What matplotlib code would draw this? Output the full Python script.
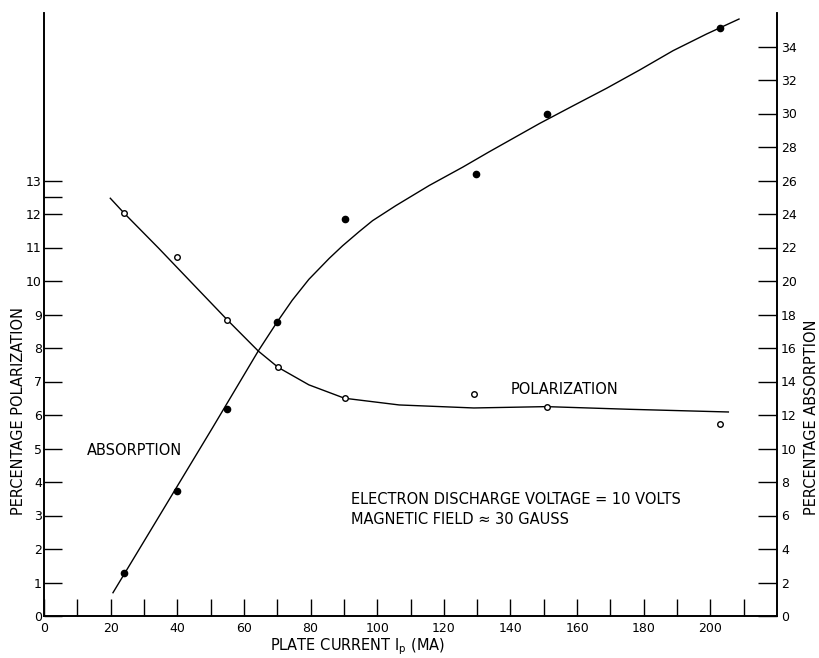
import numpy as np
import matplotlib.pyplot as plt

pol_x = [24, 40, 55, 70.3, 90.2, 129, 151, 203]
pol_y = [12.03, 10.71, 8.83, 7.42, 6.50, 6.64, 6.25, 5.74]      # left axis

abs_x = [24, 40, 55, 70, 90.2, 129.7, 151, 203]
abs_y = [2.57, 7.46, 12.36, 17.53, 23.7, 26.37, 29.99, 35.08]   # right axis

# hand drawn curves
pol_cx = [19.9, 24.0, 34.4, 44.5, 55.1, 64.3, 70.3, 79.5, 90.2, 106.6,
          129.0, 150.8, 175.8, 205.4]
pol_cy = [12.47, 12.03, 10.98, 9.93, 8.83, 7.91, 7.42, 6.90, 6.50, 6.30,
          6.21, 6.25, 6.17, 6.09]

abs_cx = [20.7, 50.5, 64.3, 69.9, 74.5, 79.5, 85.6, 89.6, 94.6, 98.6,
          105.6, 115.6, 125.7, 133.5, 148.7, 158.7, 168.8, 178.8, 188.8,
          198.9, 208.6]
abs_cy = [1.39, 11.21, 15.82, 17.53, 18.85, 20.1, 21.35, 22.1, 22.95,
          23.6, 24.5, 25.7, 26.8, 27.7, 29.4, 30.45, 31.5, 32.6, 33.75,
          34.75, 35.64]

x_ticks = list(range(0, 220, 10))
x_labels = [str(v) if v % 20 == 0 else '' for v in x_ticks]
left_ticks = [0, 1, 2, 3, 4, 5, 6, 7, 8, 9, 10, 11, 12, 12.5, 13]
left_labels = ['0', '1', '2', '3', '4', '5', '6', '7', '8', '9', '10', '11',
               '12', '', '13']
right_ticks = list(range(0, 36, 2))

plt.rcParams['font.family'] = 'DejaVu Sans'

fig = plt.figure(figsize=(8.19, 6.58), dpi=100)
ax = fig.add_axes([44/819, 1-616/658, 733/819, 603/658])
ax2 = ax.twinx()

lw = 1.0
ax.plot(pol_cx, pol_cy, color='black', lw=lw)
ax.plot(pol_x, pol_y, 'o', ms=4, mfc='white', mec='black', mew=1.0)

ax2.plot(abs_cx, abs_cy, color='black', lw=lw)
ax2.plot(abs_x, abs_y, 'o', ms=4.5, color='black')

ax.set_xlim(0, 220)
ax.set_ylim(0, 18)
ax2.set_ylim(0, 36)

for a in (ax, ax2):
    a.spines['top'].set_visible(False)
    for s in a.spines.values():
        s.set_linewidth(1.2)

ax.set_xticks(x_ticks)
ax.set_xticklabels(x_labels, fontsize=9)
ax.set_yticks(left_ticks)
ax.set_yticklabels(left_labels, fontsize=9)
ax2.set_yticks(right_ticks)
ax2.set_yticklabels([str(v) for v in right_ticks], fontsize=9)

ax.tick_params(axis='x', direction='in', length=12, width=1.0, pad=4)
ax.tick_params(axis='y', direction='in', length=13, width=1.0, pad=1.5)
ax2.tick_params(axis='y', direction='in', length=14, width=1.0, pad=3)

# axis titles
fig.text(19/819, 1-411/658, 'PERCENTAGE POLARIZATION', rotation=90,
         ha='center', va='center', fontsize=10.5)
fig.text(812/819, 1-417/658, 'PERCENTAGE ABSORPTION', rotation=90,
         ha='center', va='center', fontsize=10.5)
fig.text(358/819, 1-647/658, r'PLATE CURRENT I$_\mathregular{p}$ (MA)',
         ha='center', va='center', fontsize=10.5)

# labels inside the plot
ax.text(13, 4.95, 'ABSORPTION', ha='left', va='center', fontsize=10.5)
ax.text(140, 6.75, 'POLARIZATION', ha='left', va='center', fontsize=10.5)
ax.text(92, 3.49, 'ELECTRON DISCHARGE VOLTAGE = 10 VOLTS', ha='left',
        va='center', fontsize=10.5)
ax.text(92, 2.89, 'MAGNETIC FIELD \u2248 30 GAUSS', ha='left',
        va='center', fontsize=10.5)

fig.savefig('out.png', dpi=100)
